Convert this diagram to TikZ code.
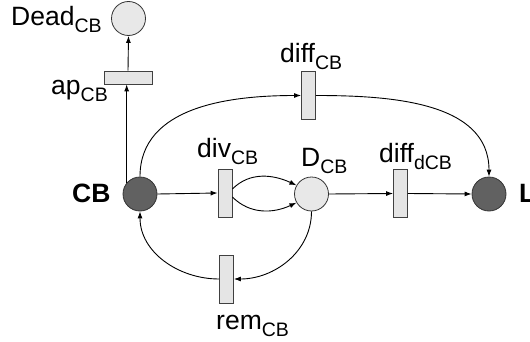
\documentclass[tikz,border=0pt]{standalone}
\usepackage{fontspec}
\setmainfont{Liberation Sans}
\usetikzlibrary{arrows.meta}
\newcommand{\sbs}[1]{\raisebox{-7pt}{\fontsize{19.5}{19.5}\selectfont #1}}
\begin{document}
\begin{tikzpicture}[x=1pt,y=1pt,
  arr/.style={draw=black, line width=0.9pt, -{Latex[length=7pt,width=5pt]}},
  place/.style={circle, draw=black!80, line width=0.8pt, minimum size=34pt, inner sep=0pt},
  darkplace/.style={place, fill=black!62},
  lightplace/.style={place, fill=black!9},
  vtrans/.style={rectangle, draw=black!75, fill=black!10, line width=0.8pt, minimum width=14pt, minimum height=48pt, inner sep=0pt},
  htrans/.style={rectangle, draw=black!75, fill=black!10, line width=0.8pt, minimum width=48pt, minimum height=13pt, inner sep=0pt},
  lbl/.style={anchor=base west, inner sep=0pt, font=\fontsize{26.5}{26.5}\selectfont},
]
\useasboundingbox (0,0) rectangle (530,341);
% places
\node[lightplace] (Dead) at (128.5,322.5) {};
\node[darkplace] (CB) at (140,147) {};
\node[lightplace] (D) at (311.5,147) {};
\node[darkplace] (L) at (489,147) {};
% transitions
\node[htrans] (ap) at (128,263.5) {};
\node[vtrans] (div) at (225,148) {};
\node[vtrans] (diffd) at (400.5,147.5) {};
\node[vtrans] (diff) at (308.5,245.5) {};
\node[vtrans] (rem) at (226.5,62) {};
% labels
\node[lbl] (lDead) at (11,316) {Dead\sbs{CB}};
\node[lbl] (lap) at (51,247) {ap\sbs{CB}};
\node[lbl, font=\fontsize{26.5}{26.5}\selectfont\bfseries] (lCB) at (72,139) {CB};
\node[lbl] (ldiv) at (197,184) {div\sbs{CB}};
\node[lbl] (lD) at (301,175) {D\sbs{CB}};
\node[lbl] (ldiffd) at (379,179) {diff\sbs{dCB}};
\node[lbl] (ldiff) at (280,279) {diff\sbs{CB}};
\node[lbl] (lrem) at (216,12) {rem\sbs{CB}};
\node[lbl, font=\fontsize{26.5}{26.5}\selectfont\bfseries] (lL) at (519,139) {L};
% arcs
\draw[arr] (CB.140) -- (CB.140 |- ap.south);
\draw[arr] (ap.north) -- (Dead.south);
\draw[arr] (CB.east) -- (div.west);
\draw[arr] ([yshift=4pt]div.east) to[out=45,in=155] (D.150);
\draw[arr] ([yshift=-4pt]div.east) to[out=-45,in=-155] (D.-150);
\draw[arr] (D.east) -- (diffd.west);
\draw[arr] (diffd.east) -- (L.west);
\draw[arr] (CB.north) to[out=90,in=180] (diff.west);
\draw[arr] (diff.east) to[out=0,in=90] (L.north);
\draw[arr] (D.south) to[out=-90,in=0] (rem.east);
\draw[arr] (rem.west) to[out=180,in=-90] (CB.south);
\end{tikzpicture}
\end{document}
